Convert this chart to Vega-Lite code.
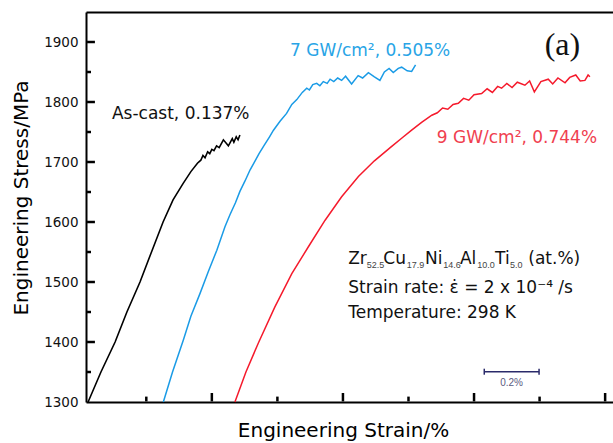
{
  "$schema": "https://vega.github.io/schema/vega-lite/v6.json",
  "width": 527,
  "height": 390,
  "autosize": {"type": "none"},
  "padding": {"left": 86, "top": 12, "right": 0, "bottom": 41},
  "background": "white",
  "config": {"view": {"stroke": null}, "font": "DejaVu Sans"},
  "datasets": {
    "curves": [
      {"series": "As-cast", "strain": 0.028, "stress": 1300},
      {"series": "As-cast", "strain": 0.077, "stress": 1350},
      {"series": "As-cast", "strain": 0.131, "stress": 1400},
      {"series": "As-cast", "strain": 0.176, "stress": 1450},
      {"series": "As-cast", "strain": 0.226, "stress": 1500},
      {"series": "As-cast", "strain": 0.268, "stress": 1548},
      {"series": "As-cast", "strain": 0.314, "stress": 1600},
      {"series": "As-cast", "strain": 0.352, "stress": 1637},
      {"series": "As-cast", "strain": 0.390, "stress": 1664},
      {"series": "As-cast", "strain": 0.420, "stress": 1684},
      {"series": "As-cast", "strain": 0.445, "stress": 1698},
      {"series": "As-cast", "strain": 0.458, "stress": 1703},
      {"series": "As-cast", "strain": 0.466, "stress": 1711},
      {"series": "As-cast", "strain": 0.474, "stress": 1707},
      {"series": "As-cast", "strain": 0.484, "stress": 1717},
      {"series": "As-cast", "strain": 0.492, "stress": 1714},
      {"series": "As-cast", "strain": 0.500, "stress": 1721},
      {"series": "As-cast", "strain": 0.508, "stress": 1719},
      {"series": "As-cast", "strain": 0.518, "stress": 1727},
      {"series": "As-cast", "strain": 0.528, "stress": 1724},
      {"series": "As-cast", "strain": 0.544, "stress": 1737},
      {"series": "As-cast", "strain": 0.563, "stress": 1727},
      {"series": "As-cast", "strain": 0.578, "stress": 1739},
      {"series": "As-cast", "strain": 0.584, "stress": 1733},
      {"series": "As-cast", "strain": 0.593, "stress": 1742},
      {"series": "As-cast", "strain": 0.600, "stress": 1737},
      {"series": "As-cast", "strain": 0.607, "stress": 1745},
      {"series": "7 GW", "strain": 0.315, "stress": 1300},
      {"series": "7 GW", "strain": 0.350, "stress": 1350},
      {"series": "7 GW", "strain": 0.391, "stress": 1403},
      {"series": "7 GW", "strain": 0.420, "stress": 1443},
      {"series": "7 GW", "strain": 0.455, "stress": 1481},
      {"series": "7 GW", "strain": 0.487, "stress": 1518},
      {"series": "7 GW", "strain": 0.519, "stress": 1553},
      {"series": "7 GW", "strain": 0.550, "stress": 1592},
      {"series": "7 GW", "strain": 0.569, "stress": 1612},
      {"series": "7 GW", "strain": 0.590, "stress": 1632},
      {"series": "7 GW", "strain": 0.607, "stress": 1651},
      {"series": "7 GW", "strain": 0.626, "stress": 1668},
      {"series": "7 GW", "strain": 0.646, "stress": 1687},
      {"series": "7 GW", "strain": 0.665, "stress": 1702},
      {"series": "7 GW", "strain": 0.680, "stress": 1714},
      {"series": "7 GW", "strain": 0.700, "stress": 1728},
      {"series": "7 GW", "strain": 0.720, "stress": 1742},
      {"series": "7 GW", "strain": 0.735, "stress": 1753},
      {"series": "7 GW", "strain": 0.760, "stress": 1768},
      {"series": "7 GW", "strain": 0.785, "stress": 1781},
      {"series": "7 GW", "strain": 0.805, "stress": 1796},
      {"series": "7 GW", "strain": 0.824, "stress": 1804},
      {"series": "7 GW", "strain": 0.845, "stress": 1816},
      {"series": "7 GW", "strain": 0.862, "stress": 1823},
      {"series": "7 GW", "strain": 0.872, "stress": 1820},
      {"series": "7 GW", "strain": 0.885, "stress": 1829},
      {"series": "7 GW", "strain": 0.900, "stress": 1831},
      {"series": "7 GW", "strain": 0.912, "stress": 1827},
      {"series": "7 GW", "strain": 0.925, "stress": 1834},
      {"series": "7 GW", "strain": 0.940, "stress": 1831},
      {"series": "7 GW", "strain": 0.951, "stress": 1838},
      {"series": "7 GW", "strain": 0.965, "stress": 1834},
      {"series": "7 GW", "strain": 0.980, "stress": 1840},
      {"series": "7 GW", "strain": 0.995, "stress": 1836},
      {"series": "7 GW", "strain": 1.010, "stress": 1843},
      {"series": "7 GW", "strain": 1.033, "stress": 1830},
      {"series": "7 GW", "strain": 1.058, "stress": 1844},
      {"series": "7 GW", "strain": 1.075, "stress": 1840},
      {"series": "7 GW", "strain": 1.097, "stress": 1849},
      {"series": "7 GW", "strain": 1.120, "stress": 1842},
      {"series": "7 GW", "strain": 1.141, "stress": 1836},
      {"series": "7 GW", "strain": 1.158, "stress": 1850},
      {"series": "7 GW", "strain": 1.176, "stress": 1856},
      {"series": "7 GW", "strain": 1.192, "stress": 1849},
      {"series": "7 GW", "strain": 1.211, "stress": 1856},
      {"series": "7 GW", "strain": 1.224, "stress": 1858},
      {"series": "7 GW", "strain": 1.245, "stress": 1852},
      {"series": "7 GW", "strain": 1.262, "stress": 1851},
      {"series": "7 GW", "strain": 1.277, "stress": 1862},
      {"series": "9 GW", "strain": 0.588, "stress": 1300},
      {"series": "9 GW", "strain": 0.630, "stress": 1350},
      {"series": "9 GW", "strain": 0.677, "stress": 1398},
      {"series": "9 GW", "strain": 0.740, "stress": 1458},
      {"series": "9 GW", "strain": 0.805, "stress": 1514},
      {"series": "9 GW", "strain": 0.870, "stress": 1560},
      {"series": "9 GW", "strain": 0.932, "stress": 1603},
      {"series": "9 GW", "strain": 0.995, "stress": 1642},
      {"series": "9 GW", "strain": 1.059, "stress": 1676},
      {"series": "9 GW", "strain": 1.120, "stress": 1702},
      {"series": "9 GW", "strain": 1.186, "stress": 1726},
      {"series": "9 GW", "strain": 1.225, "stress": 1740},
      {"series": "9 GW", "strain": 1.262, "stress": 1753},
      {"series": "9 GW", "strain": 1.300, "stress": 1766},
      {"series": "9 GW", "strain": 1.339, "stress": 1778},
      {"series": "9 GW", "strain": 1.360, "stress": 1782},
      {"series": "9 GW", "strain": 1.380, "stress": 1790},
      {"series": "9 GW", "strain": 1.400, "stress": 1788},
      {"series": "9 GW", "strain": 1.420, "stress": 1796},
      {"series": "9 GW", "strain": 1.440, "stress": 1798},
      {"series": "9 GW", "strain": 1.460, "stress": 1806},
      {"series": "9 GW", "strain": 1.480, "stress": 1803},
      {"series": "9 GW", "strain": 1.500, "stress": 1812},
      {"series": "9 GW", "strain": 1.529, "stress": 1814},
      {"series": "9 GW", "strain": 1.550, "stress": 1822},
      {"series": "9 GW", "strain": 1.570, "stress": 1816},
      {"series": "9 GW", "strain": 1.590, "stress": 1826},
      {"series": "9 GW", "strain": 1.605, "stress": 1823},
      {"series": "9 GW", "strain": 1.625, "stress": 1831},
      {"series": "9 GW", "strain": 1.645, "stress": 1824},
      {"series": "9 GW", "strain": 1.665, "stress": 1833},
      {"series": "9 GW", "strain": 1.694, "stress": 1828},
      {"series": "9 GW", "strain": 1.712, "stress": 1835},
      {"series": "9 GW", "strain": 1.730, "stress": 1817},
      {"series": "9 GW", "strain": 1.755, "stress": 1834},
      {"series": "9 GW", "strain": 1.783, "stress": 1838},
      {"series": "9 GW", "strain": 1.800, "stress": 1830},
      {"series": "9 GW", "strain": 1.820, "stress": 1840},
      {"series": "9 GW", "strain": 1.847, "stress": 1832},
      {"series": "9 GW", "strain": 1.865, "stress": 1841},
      {"series": "9 GW", "strain": 1.888, "stress": 1845},
      {"series": "9 GW", "strain": 1.905, "stress": 1835},
      {"series": "9 GW", "strain": 1.923, "stress": 1836},
      {"series": "9 GW", "strain": 1.935, "stress": 1845},
      {"series": "9 GW", "strain": 1.942, "stress": 1842}
    ],
    "curveLabels": [
      {"label": "As-cast, 0.137%", "series": "As-cast", "strain": 0.119, "stress": 1771},
      {"label": "7 GW/cm², 0.505%", "series": "7 GW", "strain": 0.798, "stress": 1877},
      {"label": "9 GW/cm², 0.744%", "series": "9 GW", "strain": 1.358, "stress": 1732}
    ],
    "notes": [
      {"label": "Zr", "strain": 1.020, "stress": 1529.5},
      {"label": "Cu", "strain": 1.154, "stress": 1529.5},
      {"label": "Ni", "strain": 1.313, "stress": 1529.5},
      {"label": "Al", "strain": 1.446, "stress": 1529.5},
      {"label": "Ti", "strain": 1.580, "stress": 1529.5},
      {"label": "(at.%)", "strain": 1.707, "stress": 1529.5},
      {"label": "Strain rate:  ε̇ = 2 x 10⁻⁴ /s", "strain": 1.020, "stress": 1481},
      {"label": "Temperature: 298 K", "strain": 1.020, "stress": 1439.5}
    ],
    "subs": [
      {"label": "52.5", "strain": 1.091, "stress": 1522.8},
      {"label": "17.9", "strain": 1.243, "stress": 1522.8},
      {"label": "14.6", "strain": 1.383, "stress": 1522.8},
      {"label": "10.0", "strain": 1.512, "stress": 1522.8},
      {"label": "5.0", "strain": 1.637, "stress": 1522.8}
    ],
    "panel": [{"label": "(a)", "strain": 1.837, "stress": 1878}],
    "segments": [
      {"x1": 1.539, "x2": 1.748, "y1": 1350.5, "y2": 1350.5, "part": "scale"},
      {"x1": 1.539, "x2": 1.539, "y1": 1345.5, "y2": 1355.5, "part": "scale"},
      {"x1": 1.748, "x2": 1.748, "y1": 1345.5, "y2": 1355.5, "part": "scale"},
      {"x1": 0.25, "x2": 0.25, "y1": 1301, "y2": 1309, "part": "tick"},
      {"x1": 0.5, "x2": 0.5, "y1": 1301, "y2": 1315, "part": "tick"},
      {"x1": 0.75, "x2": 0.75, "y1": 1301, "y2": 1309, "part": "tick"},
      {"x1": 1.0, "x2": 1.0, "y1": 1301, "y2": 1315, "part": "tick"},
      {"x1": 1.25, "x2": 1.25, "y1": 1301, "y2": 1309, "part": "tick"},
      {"x1": 1.5, "x2": 1.5, "y1": 1301, "y2": 1315, "part": "tick"},
      {"x1": 1.75, "x2": 1.75, "y1": 1301, "y2": 1309, "part": "tick"},
      {"x1": 2.0, "x2": 2.0, "y1": 1301, "y2": 1315, "part": "tick"},
      {"x1": 0.024, "x2": 0.039, "y1": 1350, "y2": 1350, "part": "tick"},
      {"x1": 0.024, "x2": 0.054, "y1": 1400, "y2": 1400, "part": "tick"},
      {"x1": 0.024, "x2": 0.039, "y1": 1450, "y2": 1450, "part": "tick"},
      {"x1": 0.024, "x2": 0.054, "y1": 1500, "y2": 1500, "part": "tick"},
      {"x1": 0.024, "x2": 0.039, "y1": 1550, "y2": 1550, "part": "tick"},
      {"x1": 0.024, "x2": 0.054, "y1": 1600, "y2": 1600, "part": "tick"},
      {"x1": 0.024, "x2": 0.039, "y1": 1650, "y2": 1650, "part": "tick"},
      {"x1": 0.024, "x2": 0.054, "y1": 1700, "y2": 1700, "part": "tick"},
      {"x1": 0.024, "x2": 0.039, "y1": 1750, "y2": 1750, "part": "tick"},
      {"x1": 0.024, "x2": 0.054, "y1": 1800, "y2": 1800, "part": "tick"},
      {"x1": 0.024, "x2": 0.039, "y1": 1850, "y2": 1850, "part": "tick"},
      {"x1": 0.024, "x2": 0.054, "y1": 1900, "y2": 1900, "part": "tick"}
    ],
    "scalelabel": [{"label": "0.2%", "strain": 1.643, "stress": 1332}]
  },
  "resolve": {"axis": {"x": "independent", "y": "independent"}},
  "layer": [
    {
      "data": {"name": "curves"},
      "transform": [{"filter": "datum.series === 'As-cast'"}],
      "mark": {"type": "line", "color": "#000000", "strokeWidth": 1.6},
      "encoding": {
        "x": {"field": "strain", "type": "quantitative",
          "scale": {"domain": [0.02, 2.03], "nice": false, "zero": false},
          "axis": {"orient": "bottom", "ticks": false, "domain": true, "domainColor": "#000", "domainWidth": 2, "labels": false, "grid": false,
            "title": "Engineering Strain/%", "titleFont": "DejaVu Sans", "titleFontSize": 20, "titleFontWeight": "normal",
            "titleColor": "#000", "titleX": 257, "titleY": 34, "titleBaseline": "alphabetic", "titleAlign": "center"}},
        "y": {"field": "stress", "type": "quantitative",
          "scale": {"domain": [1300, 1950], "nice": false, "zero": false},
          "axis": {"orient": "left", "values": [1300, 1400, 1500, 1600, 1700, 1800, 1900], "format": "d", "ticks": false,
            "domain": true, "domainColor": "#000", "domainWidth": 2, "grid": false,
            "labelFont": "DejaVu Sans", "labelFontSize": 13.5, "labelColor": "#111", "labelPadding": 8,
            "title": "Engineering Stress/MPa", "titleFont": "DejaVu Sans", "titleFontSize": 20, "titleFontWeight": "normal",
            "titleColor": "#000", "titleX": -59, "titleY": 185.5, "titleAngle": -90, "titleBaseline": "alphabetic", "titleAlign": "center"}}
      }
    },
    {
      "data": {"name": "curves"},
      "transform": [{"filter": "datum.series === '7 GW'"}],
      "mark": {"type": "line", "color": "#1a9be6", "strokeWidth": 1.5},
      "encoding": {
        "x": {"field": "strain", "type": "quantitative", "axis": null},
        "y": {"field": "stress", "type": "quantitative", "axis": null}
      }
    },
    {
      "data": {"name": "curves"},
      "transform": [{"filter": "datum.series === '9 GW'"}],
      "mark": {"type": "line", "color": "#f51a2c", "strokeWidth": 1.5},
      "encoding": {
        "x": {"field": "strain", "type": "quantitative", "axis": null},
        "y": {"field": "stress", "type": "quantitative", "axis": null}
      }
    },
    {
      "data": {"name": "curveLabels"},
      "mark": {"type": "text", "align": "left", "baseline": "alphabetic", "font": "DejaVu Sans", "fontSize": 17},
      "encoding": {
        "x": {"field": "strain", "type": "quantitative",
          "axis": {"orient": "top", "ticks": false, "labels": false, "grid": false, "title": null,
            "domain": true, "domainColor": "#000", "domainWidth": 2}},
        "y": {"field": "stress", "type": "quantitative", "axis": null},
        "text": {"field": "label"},
        "color": {"field": "series", "type": "nominal", "legend": null,
          "scale": {"domain": ["As-cast", "7 GW", "9 GW"], "range": ["#111111", "#28a4e6", "#f0404f"]}}
      }
    },
    {
      "data": {"name": "notes"},
      "mark": {"type": "text", "align": "left", "baseline": "alphabetic", "font": "DejaVu Sans", "fontSize": 17, "color": "#111"},
      "encoding": {
        "x": {"field": "strain", "type": "quantitative", "axis": null},
        "y": {"field": "stress", "type": "quantitative", "axis": null},
        "text": {"field": "label"}
      }
    },
    {
      "data": {"name": "subs"},
      "mark": {"type": "text", "align": "left", "baseline": "alphabetic", "font": "Liberation Sans", "fontSize": 9, "color": "#444"},
      "encoding": {
        "x": {"field": "strain", "type": "quantitative", "axis": null},
        "y": {"field": "stress", "type": "quantitative", "axis": null},
        "text": {"field": "label"}
      }
    },
    {
      "data": {"name": "panel"},
      "mark": {"type": "text", "align": "center", "baseline": "alphabetic", "font": "Liberation Serif", "fontSize": 32, "color": "#111"},
      "encoding": {
        "x": {"field": "strain", "type": "quantitative", "axis": null},
        "y": {"field": "stress", "type": "quantitative", "axis": null},
        "text": {"field": "label"}
      }
    },
    {
      "data": {"name": "segments"},
      "transform": [{"filter": "datum.part === 'scale'"}],
      "mark": {"type": "rule", "color": "#2a2a6a", "strokeWidth": 1.5},
      "encoding": {
        "x": {"field": "x1", "type": "quantitative", "axis": null},
        "x2": {"field": "x2"},
        "y": {"field": "y1", "type": "quantitative", "axis": null},
        "y2": {"field": "y2"}
      }
    },
    {
      "data": {"name": "segments"},
      "transform": [{"filter": "datum.part === 'tick'"}],
      "mark": {"type": "rule", "color": "#000000", "strokeWidth": 2.5},
      "encoding": {
        "x": {"field": "x1", "type": "quantitative", "axis": null},
        "x2": {"field": "x2"},
        "y": {"field": "y1", "type": "quantitative", "axis": null},
        "y2": {"field": "y2"}
      }
    },
    {
      "data": {"name": "scalelabel"},
      "mark": {"type": "text", "align": "center", "baseline": "middle", "font": "Liberation Sans", "fontSize": 10, "color": "#5a5a80"},
      "encoding": {
        "x": {"field": "strain", "type": "quantitative", "axis": null},
        "y": {"field": "stress", "type": "quantitative", "axis": null},
        "text": {"field": "label"}
      }
    }
  ]
}
